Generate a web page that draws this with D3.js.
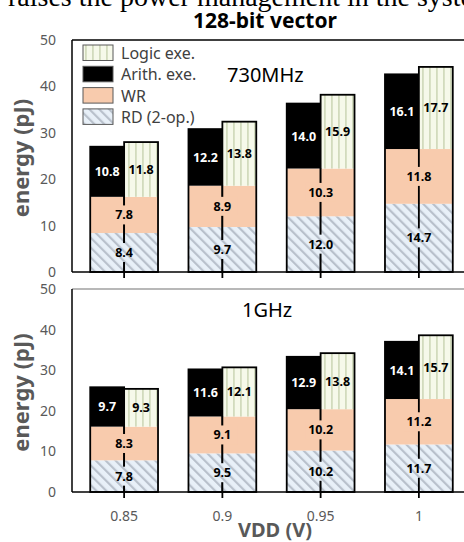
<!DOCTYPE html>
<meta charset="utf-8">
<script src="https://d3js.org/d3.v7.min.js"></script>
<style>
  body { margin: 0; background: #fff; }
  text { font-family: "Noto Sans", "Open Sans", sans-serif; }
</style>
<div id="chart"></div>
<script>
// values
const vdd = ["0.85", "0.9", "0.95", "1"];
const rd730 = [8.4, 9.7, 12.0, 14.7];
const wr730 = [7.8, 8.9, 10.3, 11.8];
const arith730 = [10.8, 12.2, 14.0, 16.1];
const logic730 = [11.8, 13.8, 15.9, 17.7];
const rd1g = [7.8, 9.5, 10.2, 11.7];
const wr1g = [8.3, 9.1, 10.2, 11.2];
const arith1g = [9.7, 11.6, 12.9, 14.1];
const logic1g = [9.3, 12.1, 13.8, 15.7];
const yTicks = [0, 10, 20, 30, 40, 50];
const legendNames = ["Logic exe.", "Arith. exe.", "WR", "RD (2-op.)"];

const W = 464, H = 542;
const svg = d3.select("#chart").append("svg")
  .attr("width", W).attr("height", H);

// fill patterns
const defs = svg.append("defs");
const rdPat = defs.append("pattern").attr("id", "rdPat")
  .attr("patternUnits", "userSpaceOnUse")
  .attr("width", 7).attr("height", 7)
  .attr("patternTransform", "rotate(-45)");
rdPat.append("rect").attr("width", 7).attr("height", 7).attr("fill", "#e8f0f8");
rdPat.append("rect").attr("width", 2.2).attr("height", 7).attr("fill", "#b8c0cb");

const logicPat = defs.append("pattern").attr("id", "logicPat")
  .attr("patternUnits", "userSpaceOnUse")
  .attr("width", 7).attr("height", 7);
logicPat.append("rect").attr("width", 7).attr("height", 7).attr("fill", "#f6f9ea");
logicPat.append("rect").attr("x", 2).attr("width", 1.8).attr("height", 7).attr("fill", "#d2dbbd");

const fills = {
  "Logic exe.": "url(#logicPat)",
  "Arith. exe.": "#000",
  "WR": "#f8cbad",
  "RD (2-op.)": "url(#rdPat)"
};

// cut-off line of the page text above the chart
svg.append("text")
  .attr("x", 8).attr("y", 6)
  .style("font-family", "'Liberation Serif', serif")
  .style("font-size", "28px")
  .attr("fill", "#000")
  .text("raises the power management in the system");

// title
svg.append("text")
  .attr("x", 265).attr("y", 28)
  .attr("text-anchor", "middle")
  .style("font-size", "21px").style("font-weight", "bold")
  .text("128-bit vector");

const x = d3.scaleBand().domain(vdd)
  .range([75, 468]).paddingInner(0.31).paddingOuter(0.155);

function panel(top, bottom, rd, wr, arith, logic, freq, freqX, freqY, showX, frameTop) {
  const y = d3.scaleLinear().domain([0, 50]).range([bottom, top]);
  const g = svg.append("g");

  // frame
  g.append("line").attr("x1", 72).attr("x2", 470).attr("y1", top).attr("y2", top)
    .attr("stroke", frameTop).attr("stroke-width", 1.5);
  g.append("line").attr("x1", 72).attr("x2", 72).attr("y1", top).attr("y2", bottom)
    .attr("stroke", "#000").attr("stroke-width", 1.5);

  // y axis labels
  const ya = g.append("g").attr("transform", "translate(72,0)")
    .call(d3.axisLeft(y).tickValues(yTicks).tickSize(0).tickPadding(16));
  ya.select(".domain").remove();
  ya.selectAll("text")
    .style("font-family", "'Noto Sans', sans-serif")
    .style("font-size", "14px").attr("fill", "#595959");

  g.append("text")
    .attr("transform", `translate(20,${(top + bottom) / 2 + 2}) rotate(-90)`)
    .attr("text-anchor", "middle").attr("dominant-baseline", "central")
    .style("font-size", "22px").style("font-weight", "bold")
    .attr("fill", "#595959")
    .text("energy (pJ)");

  const half = x.bandwidth() / 2;
  const rows = vdd.map((v, i) => ({v, rd: rd[i], wr: wr[i], ar: arith[i], lo: logic[i]}));

  rows.forEach(d => {
    const c = x(d.v) + half;
    const base = d.rd + d.wr;
    // left bar: RD, WR, Arith ; right bar: RD, WR, Logic
    [[c - half, d.ar, "Arith. exe."], [c, d.lo, "Logic exe."]].forEach(([bx, top3, name]) => {
      g.append("rect").attr("x", bx).attr("width", half)
        .attr("y", y(d.rd)).attr("height", y(0) - y(d.rd)).attr("fill", fills["RD (2-op.)"]);
      g.append("rect").attr("x", bx).attr("width", half)
        .attr("y", y(base)).attr("height", y(d.rd) - y(base)).attr("fill", fills["WR"]);
      g.append("rect").attr("x", bx).attr("width", half)
        .attr("y", y(base + top3)).attr("height", y(base) - y(base + top3)).attr("fill", fills[name]);
      g.append("rect").attr("x", bx).attr("width", half)
        .attr("y", y(base + top3)).attr("height", y(0) - y(base + top3))
        .attr("fill", "none").attr("stroke", "#000").attr("stroke-width", 1.8);
    });

    // value labels
    const lab = (lx, ly, val, col, bg) => {
      if (bg) {
        g.append("rect").attr("x", lx - 15).attr("y", ly - 9.5)
          .attr("width", 30).attr("height", 19).attr("fill", bg);
      }
      g.append("text").attr("x", lx).attr("y", ly)
        .attr("text-anchor", "middle").attr("dominant-baseline", "central")
        .style("font-size", "12.5px").style("font-weight", "bold")
        .attr("fill", col).text(val.toFixed(1));
    };
    lab(c, y(d.rd / 2), d.rd, "#000", fills["RD (2-op.)"]);
    lab(c, y(d.rd + d.wr / 2), d.wr, "#000", fills["WR"]);
    lab(c - half / 2, y(base + d.ar / 2), d.ar, "#fff", null);
    lab(c + half / 2, y(base + d.lo / 2), d.lo, "#000", null);
  });

  // x axis with ticks below the baseline
  const xa = g.append("g").attr("transform", `translate(0,${bottom})`)
    .call(d3.axisBottom(x).tickSize(6).tickPadding(13));
  xa.select(".domain").attr("d", `M72,0H470`).attr("stroke", "#000").attr("stroke-width", 1.5);
  xa.selectAll(".tick line").attr("stroke", "#000").attr("stroke-width", 1.8);
  xa.selectAll("text")
    .style("font-family", "'Noto Sans', sans-serif")
    .style("font-size", "14px").attr("fill", "#595959")
    .style("display", showX ? null : "none");

  g.append("text").attr("x", freqX).attr("y", freqY)
    .style("font-size", "20px").attr("fill", "#000").text(freq);
}

panel(40, 272, rd730, wr730, arith730, logic730, "730MHz", 227, 82, false, "#000");
panel(289, 492, rd1g, wr1g, arith1g, logic1g, "1GHz", 242, 317, true, "#a0a0a0");

// legend
const leg = svg.append("g").attr("transform", "translate(83,45)");
legendNames.forEach((n, i) => {
  const ly = i * 21.3;
  leg.append("rect").attr("x", 0).attr("y", ly).attr("width", 30).attr("height", 15.5)
    .attr("fill", fills[n]).attr("stroke", "#595959").attr("stroke-width", 1);
  leg.append("text").attr("x", 38).attr("y", ly + 8)
    .attr("dominant-baseline", "central")
    .style("font-size", "16px").attr("fill", "#404040").text(n);
});

svg.append("text")
  .attr("x", 275).attr("y", 537)
  .attr("text-anchor", "middle")
  .style("font-size", "20px").style("font-weight", "bold")
  .attr("fill", "#595959")
  .text("VDD (V)");
</script>
